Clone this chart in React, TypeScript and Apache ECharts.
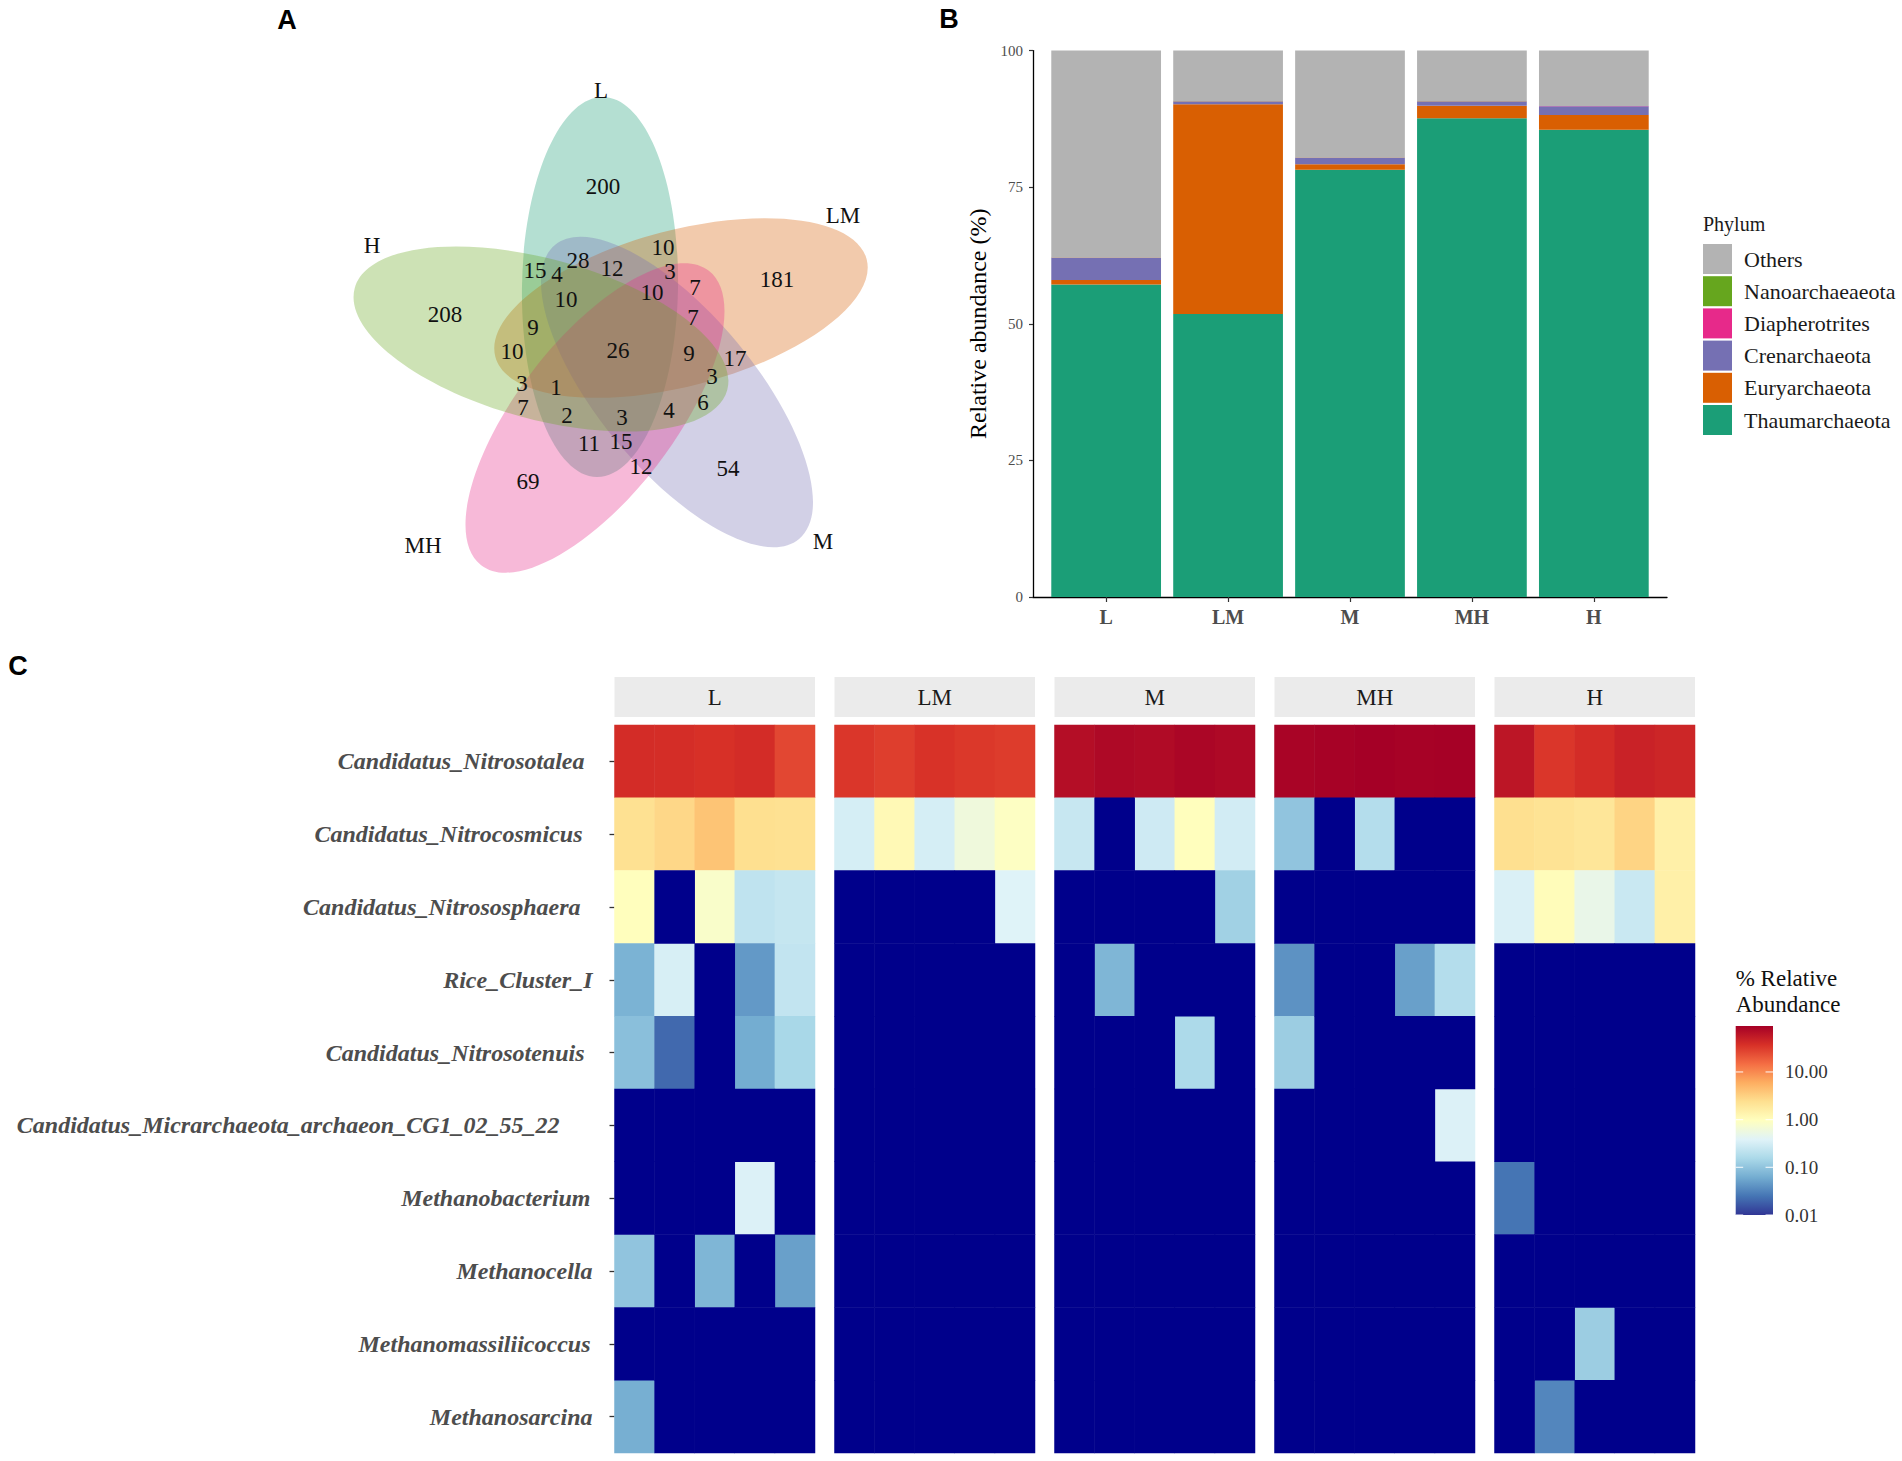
import React, { useEffect, useRef } from "react";
import * as echarts from "echarts";

// ---------------- Panel A: Venn ----------------
const vennSets = ["L", "LM", "M", "MH", "H"];
const vennColors = ["#1B9E77", "#D95F02", "#7570B3", "#E7298A", "#66A61E"];
// layout (px): cx, cy, semi-major, semi-minor, angle (deg, anticlockwise)
const vennEllipseLayout = [
  [600, 287, 190, 78, 89],
  [681, 308, 192, 78, 14.7],
  [677, 392, 191, 78, -50.3],
  [595, 418, 186, 78, -127.7],
  [541, 339, 193, 80, 164.7],
];
const vennSetLabelPos = [
  [601, 90],
  [843, 215],
  [823, 541],
  [423, 545],
  [372, 245],
];
const vennCounts = [200, 181, 54, 69, 208, 10, 3, 28, 12, 15, 4, 10, 7, 10, 7, 9, 26, 10, 9, 17, 3, 3, 1, 6, 7, 4, 2, 3, 11, 15, 12];
const vennCountPos = [
  [603, 186], [777, 279], [728, 468], [528, 481], [445, 314],
  [663, 247], [670, 271], [578, 260], [612, 268], [535, 270],
  [557, 274], [652, 292], [695, 287], [566, 299], [693, 317],
  [533, 327], [618, 350], [512, 351], [689, 353], [735, 358],
  [712, 376], [522, 383], [556, 387], [703, 402], [523, 407],
  [669, 410], [567, 415], [622, 417], [589, 443], [621, 441],
  [641, 466],
];

// ---------------- Panel B: stacked bars ----------------
const sites = ["L", "LM", "M", "MH", "H"];
const thaumarchaeota = [57.2, 51.8, 78.2, 87.6, 85.5];
const euryarchaeota = [0.8, 38.4, 1.0, 2.3, 2.7];
const crenarchaeota = [4.1, 0.5, 1.2, 0.8, 1.6];
const diapherotrites = [0.05, 0.05, 0.05, 0.05, 0.05];
const nanoarchaeaeota = [0.03, 0.03, 0.03, 0.03, 0.03];
const others = [37.82, 9.22, 19.52, 9.22, 10.12];
const yTicks = [0, 25, 50, 75, 100];

// ---------------- Panel C: heatmap ----------------
const taxa = [
  "Candidatus_Nitrosotalea",
  "Candidatus_Nitrocosmicus",
  "Candidatus_Nitrososphaera",
  "Rice_Cluster_I",
  "Candidatus_Nitrosotenuis",
  "Candidatus_Micrarchaeota_archaeon_CG1_02_55_22",
  "Methanobacterium",
  "Methanocella",
  "Methanomassiliicoccus",
  "Methanosarcina",
];
const groups = ["L", "LM", "M", "MH", "H"];
const replicates = ["1", "2", "3", "4", "5"];
// % relative abundance, rows = taxa, cols = replicates (0 = not detected)
const abundL = [
  [40, 39, 37, 40, 26],
  [2.3, 2.8, 4.0, 2.4, 2.3],
  [1.0, 0, 0.8, 0.22, 0.24],
  [0.07, 0.33, 0, 0.045, 0.23],
  [0.09, 0.021, 0, 0.062, 0.15],
  [0, 0, 0, 0, 0],
  [0, 0, 0, 0.36, 0],
  [0.1, 0, 0.075, 0, 0.05],
  [0, 0, 0, 0, 0],
  [0.065, 0, 0, 0, 0],
];
const abundLM = [
  [34, 30, 36, 33, 31],
  [0.32, 1.15, 0.32, 0.6, 0.9],
  [0, 0, 0, 0, 0.38],
  [0, 0, 0, 0, 0],
  [0, 0, 0, 0, 0],
  [0, 0, 0, 0, 0],
  [0, 0, 0, 0, 0],
  [0, 0, 0, 0, 0],
  [0, 0, 0, 0, 0],
  [0, 0, 0, 0, 0],
];
const abundM = [
  [70, 78, 75, 82, 78],
  [0.25, 0, 0.28, 1.0, 0.3],
  [0, 0, 0, 0, 0.13],
  [0, 0.075, 0, 0, 0],
  [0, 0, 0, 0.16, 0],
  [0, 0, 0, 0, 0],
  [0, 0, 0, 0, 0],
  [0, 0, 0, 0, 0],
  [0, 0, 0, 0, 0],
  [0, 0, 0, 0, 0],
];
const abundMH = [
  [85, 88, 92, 88, 90],
  [0.1, 0, 0.18, 0, 0],
  [0, 0, 0, 0, 0],
  [0.04, 0, 0, 0.05, 0.18],
  [0.12, 0, 0, 0, 0],
  [0, 0, 0, 0, 0.36],
  [0, 0, 0, 0, 0],
  [0, 0, 0, 0, 0],
  [0, 0, 0, 0, 0],
  [0, 0, 0, 0, 0],
];
const abundH = [
  [60, 34, 40, 48, 45],
  [2.4, 2.2, 2.0, 3.0, 1.5],
  [0.35, 1.05, 0.5, 0.26, 1.5],
  [0, 0, 0, 0, 0],
  [0, 0, 0, 0, 0],
  [0, 0, 0, 0, 0],
  [0.025, 0, 0, 0, 0],
  [0, 0, 0, 0, 0],
  [0, 0, 0.12, 0, 0],
  [0, 0.033, 0, 0, 0],
];
const abundByGroup = [abundL, abundLM, abundM, abundMH, abundH];
const colorbarMin = 0.01;
const colorbarMax = 92;
const colorbarBreaks = [0.01, 0.1, 1, 10];

// ---------------- styles / layout ----------------
const SERIF = "Liberation Serif";
const SANS = "Liberation Sans";
const phylumColors = {
  Thaumarchaeota: "#1B9E77",
  Euryarchaeota: "#D95F02",
  Crenarchaeota: "#7570B3",
  Diapherotrites: "#E7298A",
  Nanoarchaeaeota: "#66A61E",
  Others: "#B3B3B3",
};
const rdylbu = ["#313695", "#4575b4", "#74add1", "#abd9e9", "#e0f3f8", "#ffffbf", "#fee090", "#fdae61", "#f46d43", "#d73027", "#a50026"];
const naColor = "#00008B";
const labelPad = [8, 10, 12, 0, 8, 33, 2, 0, 2, 0];
const vennAlpha = 0.33;

const frameLeft = 1033;
const frameTop = 50.6;
const frameW = 634;
const frameH = 546.4;
const unit = frameW / 5.2;

const panelLeft = [614.5, 834.5, 1054.5, 1274.5, 1494.5];
const panelW = 200.5;
const panelTop = 725;
const panelH = 728;
const stripTop = 677;
const stripH = 40;

const cbLeft = 1735.7;
const cbTop = 1026;
const cbW = 37.3;
const cbH = 189;

const noSplit = { splitLine: { show: false } };

function buildOption() {
  const lg = (v: number) => Math.log10(v);

  const grids: any[] = [
    { left: 0, top: 0, width: 951, height: 650 },
    { left: frameLeft + unit * 0.1, top: frameTop, width: unit * 5, height: frameH },
    { left: frameLeft, top: frameTop, width: frameW, height: frameH },
    ...panelLeft.map((l) => ({ left: l, top: panelTop, width: panelW, height: panelH })),
    { left: cbLeft, top: cbTop, width: cbW, height: cbH },
  ];

  const xAxes: any[] = [
    { gridIndex: 0, type: "value", min: 0, max: 951, show: false, ...noSplit },
    {
      gridIndex: 1,
      type: "category",
      data: sites,
      axisLine: { show: false },
      axisTick: { show: true, alignWithLabel: true, length: 5, lineStyle: { color: "#333", width: 1.2 } },
      axisLabel: { margin: 10, fontFamily: SERIF, fontSize: 20, fontWeight: "bold", color: "#4d4d4d" },
    },
    {
      gridIndex: 2,
      type: "value",
      min: 0,
      max: 1,
      axisLine: { show: true, lineStyle: { color: "#000", width: 1.3 } },
      axisTick: { show: false },
      axisLabel: { show: false },
      ...noSplit,
    },
    ...groups.map((g, i) => ({ gridIndex: 3 + i, type: "category", data: replicates, show: false })),
    { gridIndex: 8, type: "value", min: 0, max: 1, show: false, ...noSplit },
  ];

  const rich: any = {};
  labelPad.forEach((p, i) => {
    rich["p" + i] = {
      fontFamily: SERIF,
      fontSize: 24,
      fontStyle: "italic",
      fontWeight: "bold",
      color: "#4d4d4d",
      padding: [0, p, 0, 0],
    };
  });

  const yAxes: any[] = [
    { gridIndex: 0, type: "value", min: 0, max: 650, inverse: true, show: false, ...noSplit },
    { gridIndex: 1, type: "value", min: 0, max: 100, show: false, ...noSplit },
    {
      gridIndex: 2,
      type: "value",
      min: 0,
      max: 100,
      interval: 25,
      axisLine: { show: true, lineStyle: { color: "#000", width: 1.3 } },
      axisTick: { show: true, length: 4, lineStyle: { color: "#333", width: 1.2 } },
      axisLabel: {
        margin: 10,
        fontFamily: SERIF,
        fontSize: 15,
        color: "#4d4d4d",
        customValues: yTicks,
      },
      name: "Relative abundance (%)",
      nameLocation: "middle",
      nameRotate: 90,
      nameGap: 43,
      nameTextStyle: { fontFamily: SERIF, fontSize: 24, color: "#000" },
      ...noSplit,
    },
    ...groups.map((g, i) => ({
      gridIndex: 3 + i,
      type: "category",
      data: taxa,
      inverse: true,
      axisLine: { show: false },
      axisTick: { show: i === 0, alignWithLabel: true, length: 5, lineStyle: { color: "#333", width: 1.3 } },
      axisLabel: {
        show: i === 0,
        margin: 22,
        formatter: (v: string, idx: number) => `{p${idx}|${v}}`,
        rich,
      },
    })),
    {
      gridIndex: 8,
      type: "value",
      min: lg(colorbarMin),
      max: lg(colorbarMax),
      position: "right",
      axisLine: { show: false },
      axisTick: { show: false },
      axisLabel: {
        show: true,
        margin: 12,
        customValues: colorbarBreaks.map(lg),
        formatter: (v: number) => Math.pow(10, v).toFixed(2),
        fontFamily: SERIF,
        fontSize: 19,
        color: "#333",
      },
      ...noSplit,
    },
  ];

  const series: any[] = [];

  // Venn ellipses
  series.push({
    type: "custom",
    xAxisIndex: 0,
    yAxisIndex: 0,
    silent: true,
    data: vennEllipseLayout.map((e) => e),
    renderItem: (params: any, api: any) => {
      const c = api.coord([api.value(0), api.value(1)]);
      const s = api.size([api.value(2), api.value(3)]);
      return {
        type: "ellipse",
        x: c[0],
        y: c[1],
        rotation: (api.value(4) * Math.PI) / 180,
        shape: { cx: 0, cy: 0, rx: s[0], ry: s[1] },
        style: { fill: vennColors[params.dataIndex], opacity: vennAlpha, stroke: "none" },
      };
    },
    z: 2,
  });
  const vennLabel = {
    show: true,
    position: "inside",
    formatter: (p: any) => String(p.value[2]),
    fontFamily: SERIF,
    fontSize: 23,
    color: "#111",
    opacity: 1,
  };
  // Venn counts
  series.push({
    type: "scatter",
    xAxisIndex: 0,
    yAxisIndex: 0,
    silent: true,
    symbolSize: 1,
    itemStyle: { color: "rgba(0,0,0,0)" },
    data: vennCounts.map((v, i) => [vennCountPos[i][0], vennCountPos[i][1], v]),
    label: vennLabel,
    z: 5,
  });
  // Venn set names
  series.push({
    type: "scatter",
    xAxisIndex: 0,
    yAxisIndex: 0,
    silent: true,
    symbolSize: 1,
    itemStyle: { color: "rgba(0,0,0,0)" },
    data: vennSets.map((s, i) => [vennSetLabelPos[i][0], vennSetLabelPos[i][1], s]),
    label: vennLabel,
    z: 5,
  });

  // Stacked bars
  const barSets: [string, number[]][] = [
    ["Thaumarchaeota", thaumarchaeota],
    ["Euryarchaeota", euryarchaeota],
    ["Crenarchaeota", crenarchaeota],
    ["Diapherotrites", diapherotrites],
    ["Nanoarchaeaeota", nanoarchaeaeota],
    ["Others", others],
  ];
  barSets.forEach(([name, vals]) => {
    series.push({
      type: "bar",
      name,
      xAxisIndex: 1,
      yAxisIndex: 1,
      stack: "total",
      barCategoryGap: "10%",
      data: vals,
      itemStyle: { color: (phylumColors as any)[name] },
      silent: true,
    });
  });

  // Heatmaps: detected cells (colour scale) and not-detected cells (navy)
  const heatIdx: number[] = [];
  const naIdx: number[] = [];
  abundByGroup.forEach((mat, g) => {
    const data: any[] = [];
    const naData: any[] = [];
    mat.forEach((row, r) => {
      row.forEach((v, c) => {
        if (v > 0) data.push([c, r, v, lg(v)]);
        else naData.push([c, r, 0, 0]);
      });
    });
    heatIdx.push(series.length);
    series.push({
      type: "heatmap",
      xAxisIndex: 3 + g,
      yAxisIndex: 3 + g,
      data,
      silent: true,
      itemStyle: { borderWidth: 0 },
      emphasis: { disabled: true },
      progressive: 0,
    });
    naIdx.push(series.length);
    series.push({
      type: "heatmap",
      xAxisIndex: 3 + g,
      yAxisIndex: 3 + g,
      data: naData,
      silent: true,
      itemStyle: { borderWidth: 0, color: naColor },
      emphasis: { disabled: true },
      progressive: 0,
    });
  });

  // Colour bar
  const grad = new echarts.graphic.LinearGradient(
    0,
    1,
    0,
    0,
    rdylbu.map((c, i) => ({ offset: i / (rdylbu.length - 1), color: c }))
  );
  series.push({
    type: "custom",
    xAxisIndex: 8,
    yAxisIndex: 8,
    silent: true,
    data: [[0, lg(colorbarMin), lg(colorbarMax)]],
    renderItem: (params: any, api: any) => {
      const cs = params.coordSys;
      const top = api.coord([0, api.value(2)])[1];
      const bottom = api.coord([0, api.value(1)])[1];
      const children: any[] = [
        { type: "rect", shape: { x: cs.x, y: top, width: cs.width, height: bottom - top }, style: { fill: grad } },
      ];
      colorbarBreaks.forEach((b) => {
        const y = api.coord([0, lg(b)])[1];
        const t = cs.width / 5;
        children.push({ type: "line", shape: { x1: cs.x, y1: y, x2: cs.x + t, y2: y }, style: { stroke: "#fff", lineWidth: 1.2, opacity: 0.8 } });
        children.push({ type: "line", shape: { x1: cs.x + cs.width - t, y1: y, x2: cs.x + cs.width, y2: y }, style: { stroke: "#fff", lineWidth: 1.2, opacity: 0.8 } });
      });
      return { type: "group", children };
    },
  });

  const graphic: any[] = [
    { type: "text", x: 287, y: 20, style: { text: "A", font: `bold 27px ${SANS}`, fill: "#000", textAlign: "center", textVerticalAlign: "middle" } },
    { type: "text", x: 949, y: 19, style: { text: "B", font: `bold 27px ${SANS}`, fill: "#000", textAlign: "center", textVerticalAlign: "middle" } },
    { type: "text", x: 18, y: 666, style: { text: "C", font: `bold 27px ${SANS}`, fill: "#000", textAlign: "center", textVerticalAlign: "middle" } },
    { type: "text", x: 1703, y: 224, style: { text: "Phylum", font: `20px ${SERIF}`, fill: "#1a1a1a", textAlign: "left", textVerticalAlign: "middle" } },
    { type: "text", x: cbLeft, y: 978, style: { text: "% Relative", font: `23px ${SERIF}`, fill: "#111", textAlign: "left", textVerticalAlign: "middle" } },
    { type: "text", x: cbLeft, y: 1004, style: { text: "Abundance", font: `23px ${SERIF}`, fill: "#111", textAlign: "left", textVerticalAlign: "middle" } },
  ];
  groups.forEach((g, i) => {
    graphic.push({
      type: "rect",
      shape: { x: panelLeft[i], y: stripTop, width: panelW, height: stripH },
      style: { fill: "#ebebeb" },
      silent: true,
    });
    graphic.push({
      type: "text",
      x: panelLeft[i] + panelW / 2,
      y: stripTop + stripH / 2,
      style: { text: g, font: `23px ${SERIF}`, fill: "#1a1a1a", textAlign: "center", textVerticalAlign: "middle" },
      silent: true,
    });
  });

  return {
    animation: false,
    backgroundColor: "#fff",
    grid: grids,
    xAxis: xAxes,
    yAxis: yAxes,
    series,
    graphic,
    legend: {
      orient: "vertical",
      left: 1703,
      top: 244,
      padding: 0,
      itemWidth: 29,
      itemHeight: 30,
      itemGap: 2.2,
      icon: "rect",
      selectedMode: false,
      data: ["Others", "Nanoarchaeaeota", "Diapherotrites", "Crenarchaeota", "Euryarchaeota", "Thaumarchaeota"],
      textStyle: { fontFamily: SERIF, fontSize: 22, color: "#1a1a1a", padding: [0, 0, 0, 7], lineHeight: 24 },
    },
    visualMap: [
      {
        type: "continuous",
        show: false,
        seriesIndex: heatIdx,
        dimension: 3,
        min: lg(colorbarMin),
        max: lg(colorbarMax),
        inRange: { color: rdylbu },
      },
      {
        type: "piecewise",
        show: false,
        seriesIndex: naIdx,
        dimension: 3,
        pieces: [{ min: -1, max: 1, color: naColor }],
      },
    ],
  };
}

export default function App() {
  const ref = useRef<HTMLDivElement>(null);
  useEffect(() => {
    document.body.style.margin = "0";
    if (!ref.current) return;
    const chart = echarts.init(ref.current, null, { renderer: "svg" });
    chart.setOption(buildOption() as any);
    return () => {
      chart.dispose();
    };
  }, []);
  return <div ref={ref} style={{ width: 1902, height: 1461, background: "#fff" }} />;
}
